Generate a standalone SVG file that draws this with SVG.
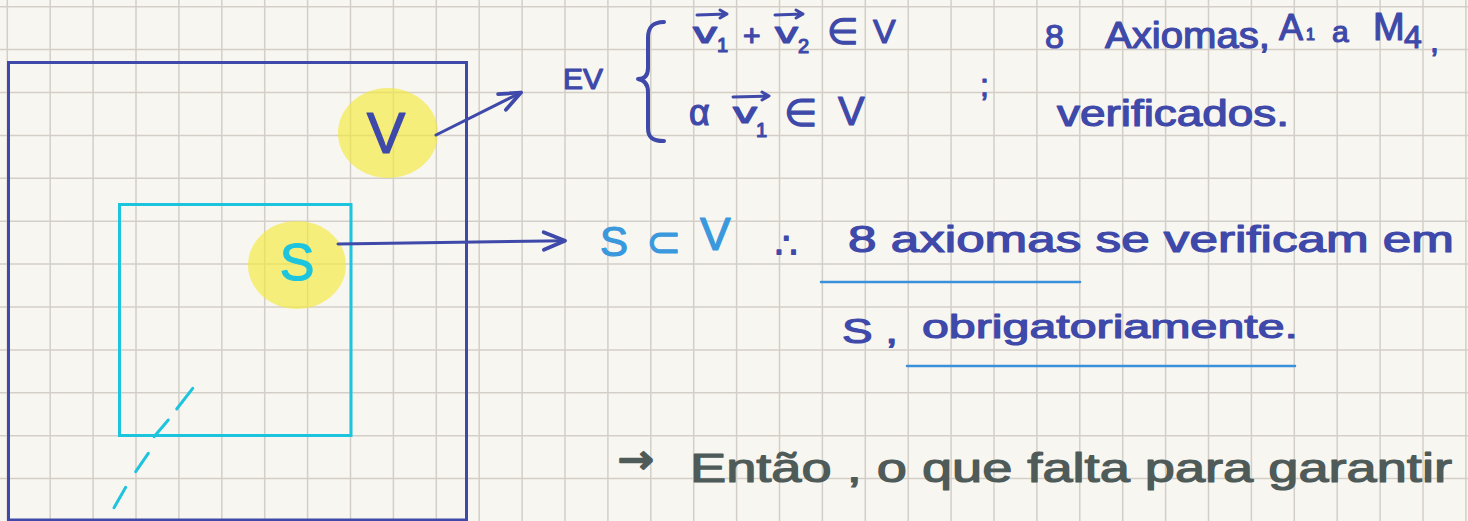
<svg xmlns="http://www.w3.org/2000/svg" width="1468" height="521" viewBox="0 0 1468 521">
<style>
.t{font-family:"Liberation Sans","DejaVu Sans",sans-serif;stroke-width:1.2;stroke-linejoin:round}
.db{fill:#3e49a9;stroke:#3e49a9}
.lb{fill:#3a98dd;stroke:#3a98dd}
.gr{fill:#4f5b59;stroke:#4f5b59}
.cy{fill:#1dc4de;stroke:#1dc4de}
.ln{fill:none;stroke-linecap:round;stroke-linejoin:round}
</style>
<defs>
<marker id="ah" markerUnits="userSpaceOnUse" markerWidth="30" markerHeight="30" viewBox="-20 -12 24 24" refX="0" refY="0" orient="auto">
<path d="M-17,-7 L0,0 L-17,7" fill="none" stroke="#3e49a9" stroke-width="3" stroke-linecap="round" stroke-linejoin="round"/>
</marker>
</defs>
<rect width="1468" height="521" fill="#f8f6f1"/>
<g id="grid" stroke="#d3cfc8" stroke-width="1.5">
<path d="M7.3,0V521M50.2,0V521M93.1,0V521M136,0V521M178.9,0V521M221.8,0V521M264.7,0V521M307.6,0V521M350.5,0V521M393.4,0V521M436.3,0V521M479.2,0V521M522.1,0V521M565,0V521M607.9,0V521M650.8,0V521M693.7,0V521M736.6,0V521M779.5,0V521M822.4,0V521M865.3,0V521M908.2,0V521M951.1,0V521M994,0V521M1036.9,0V521M1079.8,0V521M1122.7,0V521M1165.6,0V521M1208.5,0V521M1251.4,0V521M1294.3,0V521M1337.2,0V521M1380.1,0V521M1423,0V521M1465.9,0V521"/>
<path d="M0,6.7H1468M0,49.6H1468M0,92.5H1468M0,135.4H1468M0,178.3H1468M0,221.2H1468M0,264.1H1468M0,307H1468M0,349.9H1468M0,392.8H1468M0,435.7H1468M0,478.6H1468"/>
</g>
<g id="setV">
<rect x="8.5" y="62.5" width="458" height="457.5" fill="none" stroke="#3e49a9" stroke-width="3"/>
<ellipse cx="388" cy="133" rx="50" ry="45" fill="#f2e93a" opacity="0.65"/>
<text class="t db" x="386" y="153" font-size="58" text-anchor="middle">V</text>
</g>
<g id="setS">
<rect x="119.5" y="204.5" width="231.5" height="231" fill="none" stroke="#1dc4de" stroke-width="3"/>
<ellipse cx="297" cy="265" rx="49" ry="44" fill="#f2e93a" opacity="0.65"/>
<text class="t cy" x="297" y="280" font-size="52" text-anchor="middle">S</text>
<path class="ln" stroke="#1dc4de" stroke-width="3" d="M192.7,388.3L176.7,409M168.3,420L154,436.7M148.3,453.3L135.7,471.7M125.7,487.3L114,507.7"/>
</g>
<g id="connectors" class="ln" stroke="#3e49a9" stroke-width="3">
<path d="M436,135L521,92.5" marker-end="url(#ah)"/>
<path d="M338,244L565,240.7" marker-end="url(#ah)"/>
</g>
<g id="ev">
<text class="t db" x="563" y="89" font-size="30" textLength="40" lengthAdjust="spacingAndGlyphs">EV</text>
<path class="ln" stroke="#3e49a9" stroke-width="4" d="M664,22C652,22 648,28 648,38L648,68C648,76 644,79 638,79C644,80 648,84 648,92L648,128C648,137 652,141 664,141"/>
<text class="t db" x="693" y="43" font-size="30" textLength="24" lengthAdjust="spacingAndGlyphs">v</text>
<text class="t db" x="717" y="52" font-size="20">1</text>
<text class="t db" x="743" y="46" font-size="30">+</text>
<text class="t db" x="775" y="43" font-size="30" textLength="23" lengthAdjust="spacingAndGlyphs">v</text>
<text class="t db" x="798" y="53" font-size="20">2</text>
<text class="t db" x="827" y="44" font-size="36">∈</text>
<text class="t db" x="873" y="43" font-size="34">V</text>
<text class="t db" x="689" y="125" font-size="36">α</text>
<text class="t db" x="733" y="123" font-size="30" textLength="24" lengthAdjust="spacingAndGlyphs">v</text>
<text class="t db" x="756" y="137" font-size="20">1</text>
<text class="t db" x="784" y="126" font-size="38">∈</text>
<text class="t db" x="838" y="125" font-size="40">V</text>
<g class="ln" stroke="#3e49a9" stroke-width="3">
<path d="M697,15L727,14M720,10L727,14L720,18"/>
<path d="M775,15L803,14M796,10L803,14L796,18"/>
<path d="M733,97L769,96M762,92L769,96L762,100"/>
</g>
<text class="t db" x="980" y="96" font-size="32">;</text>
</g>
<g id="axiomas">
<text class="t db" x="1045" y="48" font-size="34">8</text>
<text class="t db" x="1105" y="48" font-size="36" textLength="165" lengthAdjust="spacingAndGlyphs">Axiomas,</text>
<text class="t db" x="1279" y="40" font-size="36">A</text>
<text class="t db" x="1306" y="40" font-size="16">1</text>
<text class="t db" x="1332" y="42" font-size="30">a</text>
<text class="t db" x="1373" y="40" font-size="38">M</text>
<text class="t db" x="1404" y="48" font-size="32">4</text>
<text class="t db" x="1430" y="52" font-size="32">,</text>
<text class="t db" x="1057" y="126" font-size="36" textLength="232" lengthAdjust="spacingAndGlyphs">verificados.</text>
</g>
<g id="subset">
<text class="t lb" x="600" y="256" font-size="42">S</text>
<text class="t lb" x="646" y="256" font-size="42">⊂</text>
<text class="t lb" x="700" y="250" font-size="46">V</text>
<text class="t db" x="775" y="258" font-size="36">∴</text>
<text class="t db" x="848" y="252" font-size="36" textLength="606" lengthAdjust="spacingAndGlyphs">8 axiomas se verificam em</text>
<text class="t db" x="842" y="343" font-size="35" textLength="56" lengthAdjust="spacingAndGlyphs">S ,</text>
<text class="t db" x="922" y="338" font-size="34" textLength="376" lengthAdjust="spacingAndGlyphs">obrigatoriamente.</text>
<g class="ln" stroke="#3a90da" stroke-width="2.5">
<path d="M821,282H1080"/>
<path d="M907,366H1295"/>
</g>
</g>
<g id="entao">
<text class="t gr" x="618" y="473" font-size="40" style="font-family:'DejaVu Sans',sans-serif;stroke-width:2" textLength="36" lengthAdjust="spacingAndGlyphs">→</text>
<text class="t gr" x="690" y="482" font-size="40" textLength="762" lengthAdjust="spacingAndGlyphs">Então , o que falta para garantir</text>
</g>
</svg>
